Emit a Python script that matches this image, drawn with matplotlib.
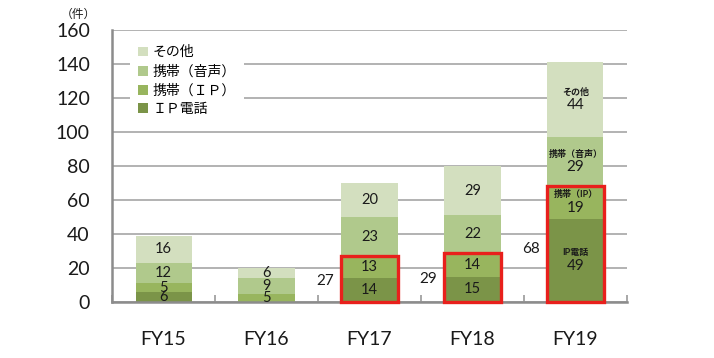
import matplotlib
matplotlib.use("Agg")
import matplotlib.pyplot as plt
from matplotlib.patches import Patch, Rectangle
import numpy as np

plt.rcParams['font.family'] = ['Lato', 'Noto Sans CJK JP', 'DejaVu Sans']

categories = ["FY15", "FY16", "FY17", "FY18", "FY19"]
ip_phone = [6, 0, 14, 15, 49]
mobile_ip = [5, 5, 13, 14, 19]
mobile_voice = [12, 9, 23, 22, 29]
other = [16, 6, 20, 29, 44]
series_names = ["ＩＰ電話", "携帯（ＩＰ）", "携帯（音声）", "その他"]
fy19_names = ["IP電話", "携帯（IP）", "携帯（音声）", "その他"]
boxed_from = 2  # red boxes from FY17
y_ticks = [0, 20, 40, 60, 80, 100, 120, 140, 160]

colors = ["#7b9448", "#98b55e", "#b0c98c", "#d3dfbf"]
series = [ip_phone, mobile_ip, mobile_voice, other]

fig = plt.figure(figsize=(7.14, 3.58), dpi=100)
ax = fig.add_axes([0.157, 0.1564, 0.721, 0.7598])

x = np.arange(len(categories))
bw = 0.545
bottom = np.zeros(len(categories))
for k, (vals, col) in enumerate(zip(series, colors)):
    vals = np.array(vals, dtype=float)
    ax.bar(x, vals, bw, bottom=bottom, color=col, zorder=2, linewidth=0)
    for i, v in enumerate(vals):
        if v <= 0:
            continue
        c = bottom[i] + v / 2
        if i == len(categories) - 1:
            ax.annotate(str(int(v)), (x[i], c), xytext=(0, -4), textcoords="offset points",
                        ha="center", va="center", fontsize=11, color="#1a1a1a", zorder=5)
            ax.annotate(fy19_names[k], (x[i], c), xytext=(0, 5.5), textcoords="offset points",
                        ha="center", va="center", fontsize=6.5, fontweight="bold",
                        color="#1a1a1a", zorder=5)
        else:
            ax.text(x[i], c, str(int(v)), ha="center", va="center", fontsize=10.5,
                    color="#1a1a1a", zorder=5)
    bottom += vals

# red boxes and totals
for i in range(boxed_from, len(categories)):
    tot = ip_phone[i] + mobile_ip[i]
    ax.add_patch(Rectangle((x[i] - 0.28, 0), 0.56, tot, fill=False, edgecolor="#e8201c",
                           linewidth=2.4, zorder=4, clip_on=False))
    ax.text(x[i] - 0.43, tot * 0.46, str(tot), ha="center", va="center", fontsize=11,
            color="#1a1a1a", zorder=5)

ax.set_xlim(-0.5, len(categories) - 0.5)
ax.set_ylim(0, 160)
ax.set_yticks(y_ticks)
ax.set_yticklabels([str(t) for t in y_ticks], fontsize=14, color="#1a1a1a")
ax.set_xticks(x)
ax.set_xticklabels(categories, fontsize=14, color="#1a1a1a")
ax.tick_params(axis="y", length=0, pad=16)
ax.tick_params(axis="x", which="major", length=0, pad=21)
ax.set_xticks(np.arange(-0.5, len(categories) + 0.5, 1.0), minor=True)
ax.tick_params(axis="x", which="minor", direction="in", length=5, width=1.2, color="#999999")

ax.yaxis.grid(True, color="#a6a6a6", linewidth=1.2, zorder=0)
ax.set_axisbelow(True)
for s in ["top", "right"]:
    ax.spines[s].set_visible(False)
for s in ["left", "bottom"]:
    ax.spines[s].set_color("#8c8c8c")
    ax.spines[s].set_linewidth(1.8)

handles = [Patch(facecolor=colors[k], edgecolor="none", label=series_names[k]) for k in range(3, -1, -1)]
leg = ax.legend(handles=handles, loc="upper left", bbox_to_anchor=(0.035, 0.975),
                frameon=True, fontsize=10, handlelength=0.7, handleheight=0.7,
                handletextpad=0.3, labelspacing=0.42, borderpad=0.6, borderaxespad=0)
leg.get_frame().set_facecolor("white")
leg.get_frame().set_edgecolor("none")
leg.get_frame().set_alpha(1)
leg.set_zorder(3)

fig.text(78 / 714, 1 - 14 / 358, "（件）", fontsize=8.5, ha="center", va="center", color="#1a1a1a")

fig.savefig("out.png", dpi=100)
